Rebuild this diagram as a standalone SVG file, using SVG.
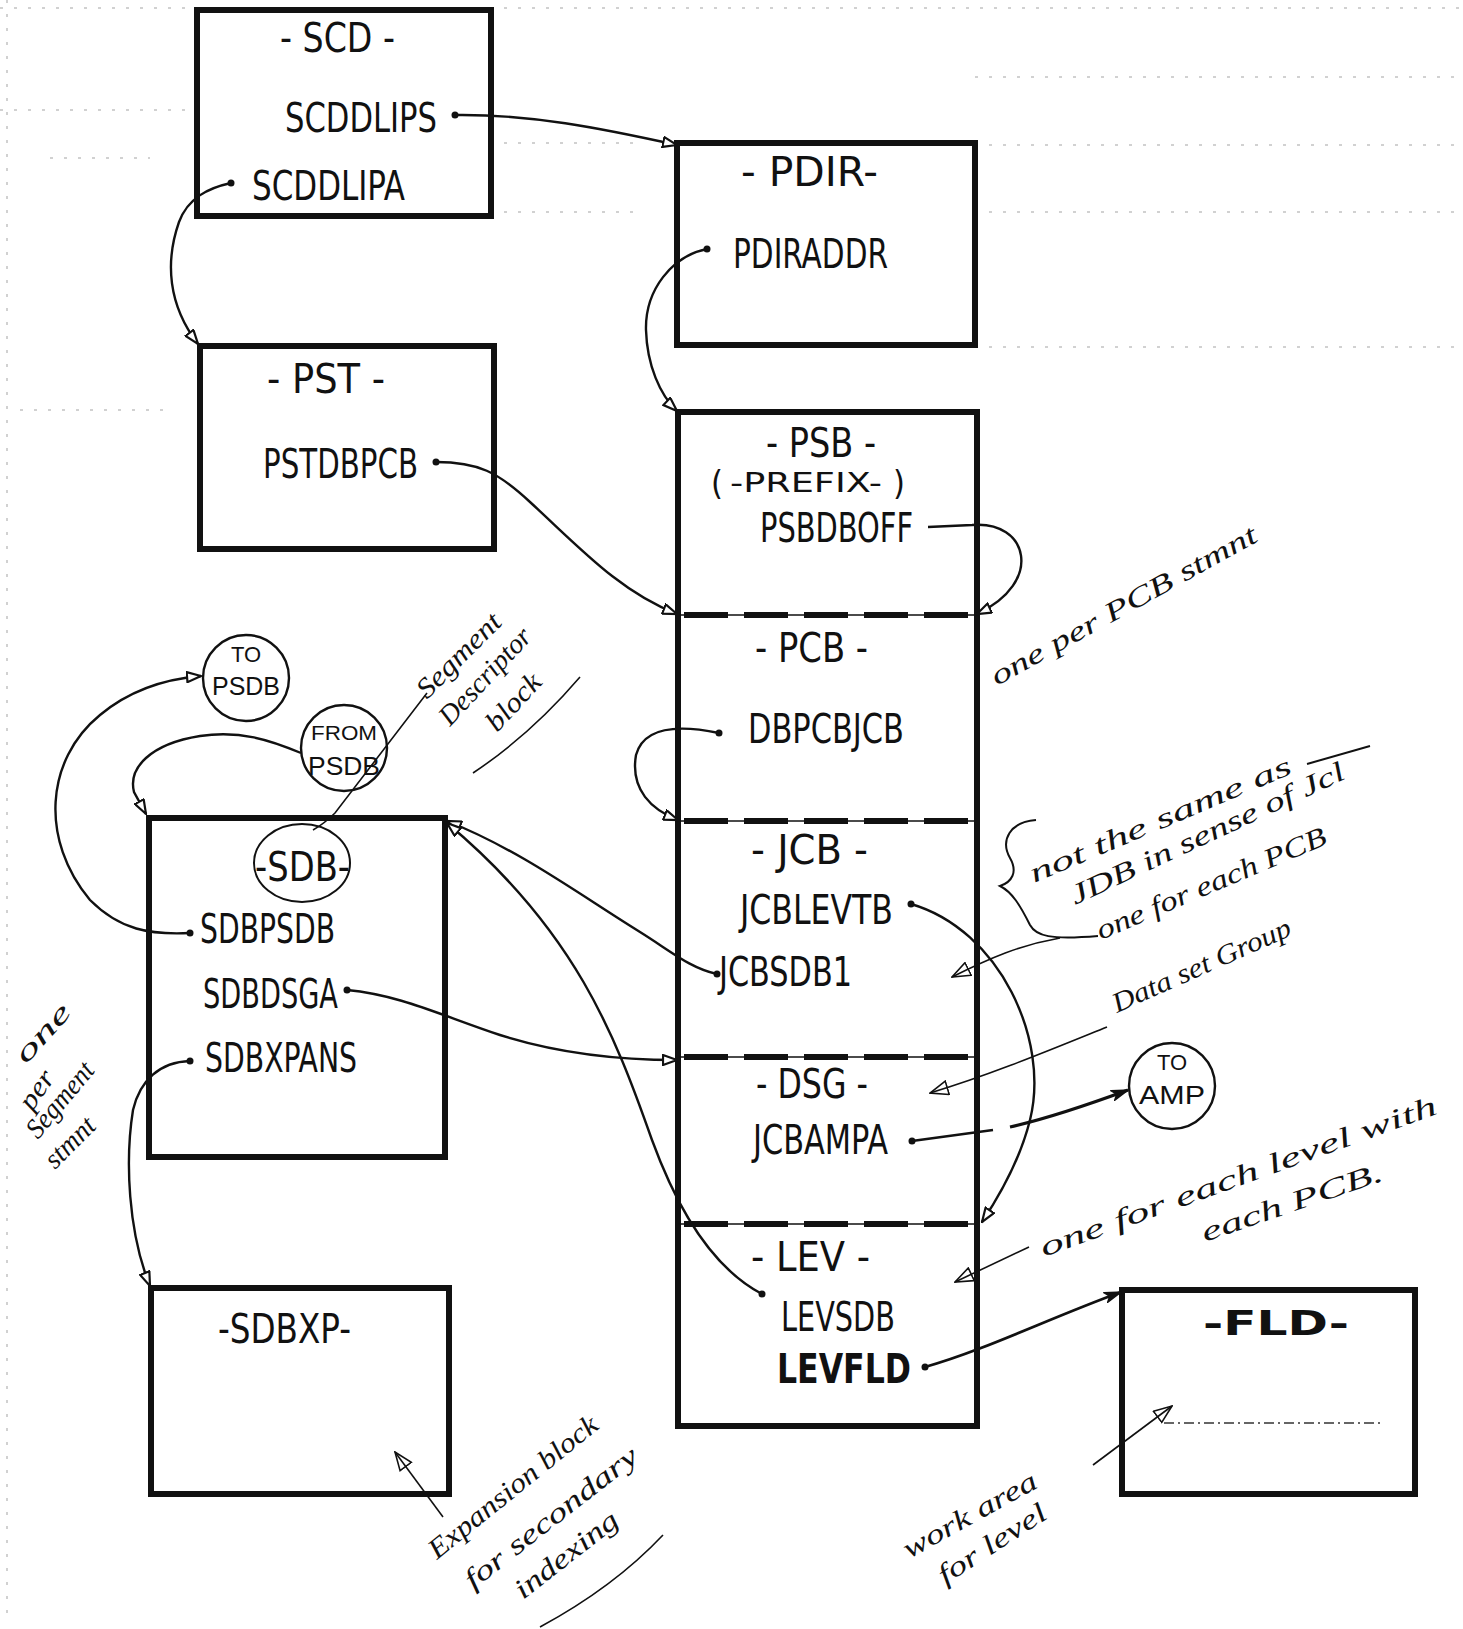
<svg xmlns="http://www.w3.org/2000/svg" width="1463" height="1629" viewBox="0 0 1463 1629">
<defs>
<style>
.box{fill:none;stroke:#111;stroke-width:6}
.lb{font-family:"Liberation Sans Narrow","DejaVu Sans Condensed","Liberation Sans",sans-serif;font-size:41px;fill:#111}
.bd{font-weight:bold}
.cn{fill:none;stroke:#111;stroke-width:2.4}
.an{fill:none;stroke:#111;stroke-width:1.6}
.dot{fill:#111}
.hw{font-family:"Liberation Serif","DejaVu Serif",serif;font-style:italic;font-size:28px;fill:#111}
.cl{font-family:"Liberation Sans","DejaVu Sans",sans-serif;font-size:26px;fill:#111}
.div{stroke:#111;stroke-width:6;stroke-dasharray:44 16;fill:none}
.divt{stroke:#111;stroke-width:1.5;fill:none}
.bg{stroke:#999;stroke-width:1.5;stroke-dasharray:3 11;fill:none;opacity:0.6}
</style>
<marker id="ah" viewBox="0 0 16 12" refX="15" refY="6" markerWidth="16" markerHeight="12" markerUnits="userSpaceOnUse" orient="auto"><path d="M1,1 L15,6 L1,11 Z" fill="#fff" stroke="#111" stroke-width="2.2"/></marker>
<marker id="ahf" viewBox="0 0 18 12" refX="17" refY="6" markerWidth="18" markerHeight="12" markerUnits="userSpaceOnUse" orient="auto"><path d="M1,1 L17,6 L1,11 L5,6 Z" fill="#111" stroke="#111" stroke-width="1.5"/></marker>
<marker id="ao" viewBox="0 0 20 16" refX="19" refY="8" markerWidth="20" markerHeight="16" markerUnits="userSpaceOnUse" orient="auto"><path d="M1,1 L19,8 L1,15 Z" fill="none" stroke="#111" stroke-width="1.6"/></marker>
</defs>
<rect width="1463" height="1629" fill="#fff"/>

<g id="background">
<path class="bg" d="M7,0 V1620"/>
<path class="bg" d="M0,8 H197 M490,8 H1463"/>
<path class="bg" d="M0,110 H197 M50,158 H150 M20,410 H170"/>
<path class="bg" d="M975,77 H1463 M975,145 H1463 M975,212 H1463 M975,347 H1463"/>
<path class="bg" d="M490,143 H640 M490,212 H640"/>
</g>

<g id="SCD">
<rect class="box" x="197" y="10" width="294" height="206"/>
<text class="lb" x="280" y="52" textLength="115" lengthAdjust="spacingAndGlyphs">- SCD -</text>
<text class="lb" x="285" y="132" textLength="152" lengthAdjust="spacingAndGlyphs">SCDDLIPS</text>
<text class="lb" x="252" y="200" textLength="153" lengthAdjust="spacingAndGlyphs">SCDDLIPA</text>
</g>

<g id="PDIR">
<rect class="box" x="677" y="143" width="298" height="202"/>
<text class="lb" x="741" y="186" textLength="137" lengthAdjust="spacingAndGlyphs">- PDIR-</text>
<text class="lb" x="733" y="268" textLength="155" lengthAdjust="spacingAndGlyphs">PDIRADDR</text>
</g>

<g id="PST">
<rect class="box" x="200" y="346" width="294" height="203"/>
<text class="lb" x="267" y="393" textLength="118" lengthAdjust="spacingAndGlyphs">- PST -</text>
<text class="lb" x="263" y="478" textLength="155" lengthAdjust="spacingAndGlyphs">PSTDBPCB</text>
</g>

<g id="PSB-column">
<rect class="box" x="678" y="412" width="299" height="1014"/>
<path class="divt" d="M678,615 H977 M678,821 H977 M678,1057 H977 M678,1224 H977"/>
<path class="div" d="M684,615 H977 M684,821 H977 M684,1057 H977 M684,1224 H977"/>
</g>

<g id="PSB">
<text class="lb" x="766" y="457" textLength="110" lengthAdjust="spacingAndGlyphs">- PSB -</text>
<text class="lb" x="711" y="495" style="font-size:34px">(</text>
<text class="lb" x="730" y="492" style="font-size:27px" textLength="152" lengthAdjust="spacingAndGlyphs">-PREFIX-</text>
<text class="lb" x="893" y="495" style="font-size:34px">)</text>
<text class="lb" x="760" y="542" textLength="153" lengthAdjust="spacingAndGlyphs">PSBDBOFF</text>
</g>

<g id="PCB">
<text class="lb" x="755" y="662" textLength="113" lengthAdjust="spacingAndGlyphs">- PCB -</text>
<text class="lb" x="748" y="743" textLength="156" lengthAdjust="spacingAndGlyphs">DBPCBJCB</text>
</g>

<g id="JCB">
<text class="lb" x="751" y="864" textLength="117" lengthAdjust="spacingAndGlyphs">- JCB -</text>
<text class="lb" x="740" y="924" textLength="153" lengthAdjust="spacingAndGlyphs">JCBLEVTB</text>
<text class="lb" x="719" y="986" textLength="133" lengthAdjust="spacingAndGlyphs">JCBSDB1</text>
</g>

<g id="DSG">
<text class="lb" x="756" y="1098" textLength="112" lengthAdjust="spacingAndGlyphs">- DSG -</text>
<text class="lb" x="753" y="1154" textLength="135" lengthAdjust="spacingAndGlyphs">JCBAMPA</text>
</g>

<g id="LEV">
<text class="lb" x="751" y="1271" textLength="119" lengthAdjust="spacingAndGlyphs">- LEV -</text>
<text class="lb" x="781" y="1331" textLength="114" lengthAdjust="spacingAndGlyphs">LEVSDB</text>
<text class="lb bd" x="777" y="1383" textLength="134" lengthAdjust="spacingAndGlyphs">LEVFLD</text>
</g>

<g id="SDB">
<rect class="box" x="149" y="818" width="296" height="339"/>
<ellipse cx="302" cy="863" rx="48" ry="39" fill="none" stroke="#111" stroke-width="2"/>
<text class="lb" x="255" y="881" textLength="95" lengthAdjust="spacingAndGlyphs">-SDB-</text>
<text class="lb" x="200" y="943" textLength="135" lengthAdjust="spacingAndGlyphs">SDBPSDB</text>
<text class="lb" x="203" y="1008" textLength="135" lengthAdjust="spacingAndGlyphs">SDBDSGA</text>
<text class="lb" x="205" y="1072" textLength="152" lengthAdjust="spacingAndGlyphs">SDBXPANS</text>
</g>

<g id="SDBXP">
<rect class="box" x="151" y="1288" width="298" height="206"/>
<text class="lb" x="218" y="1343" textLength="133" lengthAdjust="spacingAndGlyphs">-SDBXP-</text>
</g>

<g id="FLD">
<rect class="box" x="1122" y="1290" width="293" height="204"/>
<text class="lb bd" x="1203" y="1335" style="font-size:34px" textLength="146" lengthAdjust="spacingAndGlyphs">-FLD-</text>
<path d="M1164,1423 H1383" fill="none" stroke="#333" stroke-width="1.5" stroke-dasharray="10 4 2 4"/>
</g>

<g id="TO-PSDB">
<circle cx="246" cy="678" r="43" fill="none" stroke="#111" stroke-width="2.4"/>
<text class="cl" x="246" y="662" text-anchor="middle" style="font-size:22px">TO</text>
<text class="cl" x="246" y="695" text-anchor="middle" textLength="68" lengthAdjust="spacingAndGlyphs">PSDB</text>
</g>

<g id="FROM-PSDB">
<circle cx="344" cy="748" r="43" fill="none" stroke="#111" stroke-width="2.4"/>
<text class="cl" x="344" y="740" text-anchor="middle" style="font-size:20px" textLength="66" lengthAdjust="spacingAndGlyphs">FROM</text>
<text class="cl" x="344" y="775" text-anchor="middle" textLength="72" lengthAdjust="spacingAndGlyphs">PSDB</text>
</g>

<g id="TO-AMP">
<circle cx="1172" cy="1086" r="43" fill="none" stroke="#111" stroke-width="2.4"/>
<text class="cl" x="1172" y="1070" text-anchor="middle" style="font-size:22px">TO</text>
<text class="cl" x="1172" y="1104" text-anchor="middle" textLength="66" lengthAdjust="spacingAndGlyphs">AMP</text>
</g>

<g id="connectors">
<g class="dot">
<circle cx="455" cy="115" r="3.5"/><circle cx="231" cy="183" r="3.5"/><circle cx="707" cy="249" r="3.5"/>
<circle cx="436" cy="462" r="3.5"/><circle cx="719" cy="733" r="3.5"/><circle cx="911" cy="904" r="3.5"/>
<circle cx="717" cy="974" r="3.5"/><circle cx="912" cy="1141" r="3.5"/><circle cx="762" cy="1294" r="3.5"/>
<circle cx="925" cy="1367" r="3.5"/><circle cx="190" cy="933" r="3.5"/><circle cx="347" cy="990" r="3.5"/>
<circle cx="190" cy="1061" r="3.5"/>
</g>
<path class="cn" marker-end="url(#ah)" d="M455,115 C530,114 600,128 677,145"/>
<path class="cn" marker-end="url(#ah)" d="M231,183 C208,188 188,198 179,222 C165,262 168,305 198,344"/>
<path class="cn" marker-end="url(#ah)" d="M707,249 C672,256 645,290 646,330 C647,365 660,395 677,411"/>
<path class="cn" marker-end="url(#ah)" d="M436,462 C478,462 498,472 530,502 C580,548 620,592 677,614"/>
<path class="cn" marker-end="url(#ah)" d="M928,527 L972,525 C1028,520 1045,582 977,614"/>
<path class="cn" marker-end="url(#ah)" d="M719,733 C690,727 645,722 636,755 C630,790 652,810 678,820"/>
<path class="cn" marker-end="url(#ah)" d="M911,904 C1000,930 1050,1040 1030,1120 C1020,1160 1000,1195 982,1222"/>
<path class="cn" marker-end="url(#ah)" d="M717,974 C690,968 672,952 640,932 C580,895 520,850 447,821"/>
<path class="cn" marker-end="url(#ah)" d="M762,1294 C720,1272 682,1222 652,1140 C615,1035 575,930 447,823"/>
<path class="cn" marker-end="url(#ah)" d="M190,933 C150,935 120,930 90,900 C40,840 45,760 100,715 C130,690 165,679 201,676"/>
<path class="cn" marker-end="url(#ah)" d="M301,753 C270,740 240,730 200,736 C150,744 128,768 134,792 L146,814"/>
<path class="cn" marker-end="url(#ah)" d="M347,990 C400,995 440,1015 500,1035 C560,1054 620,1060 677,1060"/>
<path class="cn" marker-end="url(#ah)" d="M190,1061 C160,1062 140,1080 133,1110 C125,1160 128,1232 150,1286"/>
<path class="cn" d="M912,1141 L993,1130"/>
<path class="cn" marker-end="url(#ahf)" style="stroke-width:3.2" d="M1010,1127 C1050,1118 1090,1104 1128,1090"/>
<path class="cn" marker-end="url(#ahf)" style="stroke-width:2.8" d="M925,1367 C985,1350 1045,1320 1121,1292"/>
</g>

<g id="annotations">
<path class="an" d="M427,693 L335,813 C328,820 320,826 313,830"/>
<path class="an" d="M473,773 C515,745 550,712 580,677"/>
<g class="hw" transform="translate(427,700) rotate(-45)"><text x="0" y="0" textLength="108" lengthAdjust="spacingAndGlyphs">Segment</text></g>
<g class="hw" transform="translate(450,727) rotate(-47)"><text x="0" y="0" textLength="122" lengthAdjust="spacingAndGlyphs">Descriptor</text></g>
<g class="hw" transform="translate(497,733) rotate(-47)"><text x="0" y="0" textLength="68" lengthAdjust="spacingAndGlyphs">block</text></g>

<g class="hw" transform="translate(997,686) rotate(-29)"><text x="0" y="0" textLength="300" lengthAdjust="spacingAndGlyphs">one per PCB stmnt</text></g>

<path class="an" style="stroke-width:2" d="M1036,820 C1010,822 1000,840 1010,858 C1018,872 1012,882 1000,886 C1012,892 1020,905 1030,925 C1036,936 1050,940 1098,936"/>
<path class="an" marker-end="url(#ao)" d="M1060,938 C1020,945 990,958 952,977"/>
<g class="hw" transform="translate(1034,883) rotate(-23)"><text x="0" y="0" textLength="282" lengthAdjust="spacingAndGlyphs">not the same as</text></g>
<g class="hw" transform="translate(1075,905) rotate(-25)"><text x="0" y="0" textLength="300" lengthAdjust="spacingAndGlyphs">JDB in sense of Jcl</text></g>
<path class="an" style="stroke-width:2" d="M1307,764 L1370,746"/>
<g class="hw" transform="translate(1101,940) rotate(-23)"><text x="0" y="0" textLength="247" lengthAdjust="spacingAndGlyphs">one for each PCB</text></g>

<path class="an" marker-end="url(#ao)" d="M1107,1027 C1050,1050 990,1075 930,1093"/>
<g class="hw" transform="translate(1117,1013) rotate(-24)"><text x="0" y="0" textLength="193" lengthAdjust="spacingAndGlyphs">Data set Group</text></g>

<path class="an" marker-end="url(#ao)" d="M1029,1247 L955,1282"/>
<g class="hw" transform="translate(1044,1257) rotate(-20)"><text x="0" y="0" textLength="420" lengthAdjust="spacingAndGlyphs">one for each level with</text></g>
<g class="hw" transform="translate(1205,1242) rotate(-19)"><text x="0" y="0" textLength="190" lengthAdjust="spacingAndGlyphs">each PCB.</text></g>

<path class="an" marker-end="url(#ao)" d="M1093,1465 L1172,1406"/>
<g class="hw" transform="translate(909,1559) rotate(-29)"><text x="0" y="0" textLength="149" lengthAdjust="spacingAndGlyphs">work area</text></g>
<g class="hw" transform="translate(945,1585) rotate(-33)"><text x="0" y="0" textLength="124" lengthAdjust="spacingAndGlyphs">for level</text></g>

<path class="an" marker-end="url(#ao)" d="M443,1517 L395,1452"/>
<path class="an" d="M540,1627 C590,1600 630,1570 663,1535"/>
<g class="hw" transform="translate(437,1560) rotate(-39)"><text x="0" y="0" textLength="210" lengthAdjust="spacingAndGlyphs">Expansion block</text></g>
<g class="hw" transform="translate(473,1590) rotate(-38)"><text x="0" y="0" textLength="212" lengthAdjust="spacingAndGlyphs">for secondary</text></g>
<g class="hw" transform="translate(523,1600) rotate(-38)"><text x="0" y="0" textLength="124" lengthAdjust="spacingAndGlyphs">indexing</text></g>

<g class="hw" transform="translate(26,1065) rotate(-48)"><text x="0" y="0" textLength="70" lengthAdjust="spacingAndGlyphs">one</text></g>
<g class="hw" transform="translate(32,1112) rotate(-55)"><text x="0" y="0" textLength="42" lengthAdjust="spacingAndGlyphs">per</text></g>
<g class="hw" transform="translate(38,1140) rotate(-50)"><text x="0" y="0" textLength="90" lengthAdjust="spacingAndGlyphs">Segment</text></g>
<g class="hw" transform="translate(55,1170) rotate(-45)"><text x="0" y="0" textLength="60" lengthAdjust="spacingAndGlyphs">stmnt</text></g>
</g>
</svg>
